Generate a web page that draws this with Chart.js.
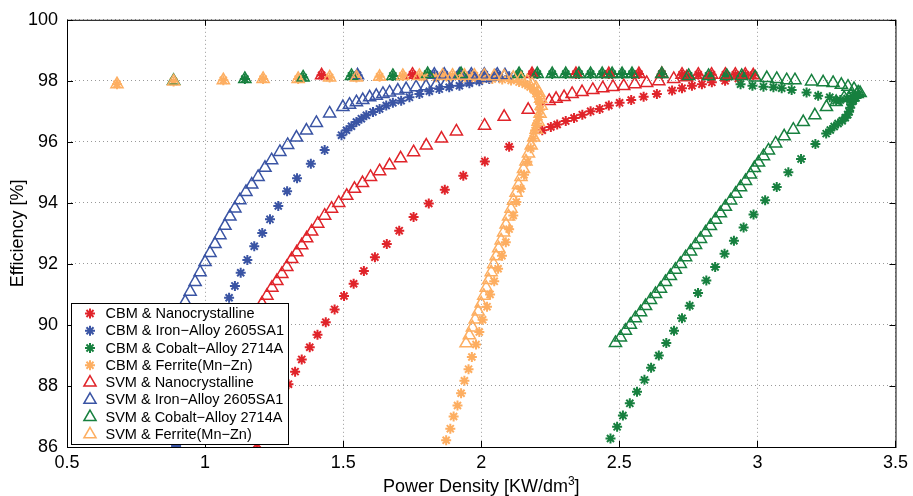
<!DOCTYPE html>
<html>
<head>
<meta charset="utf-8">
<script src="https://cdn.jsdelivr.net/npm/chart.js@4.4.1/dist/chart.umd.min.js"></script>
<style>
  html, body { margin: 0; padding: 0; background: #fff; }
  #wrap { width: 913px; height: 496px; }
</style>
</head>
<body>
<div id="wrap"><canvas id="chart" width="913" height="496"></canvas></div>
<script>
// puntos [potencia, eficiencia]
const CBM_NANO = [[1.188,86.1],[1.209,86.45],[1.231,86.84],[1.254,87.24],[1.278,87.65],[1.302,88.06],[1.326,88.47],[1.350,88.87],[1.379,89.27],[1.407,89.68],[1.437,90.09],[1.469,90.51],[1.503,90.95],[1.538,91.35],[1.575,91.77],[1.615,92.22],[1.658,92.65],[1.703,93.09],[1.755,93.54],[1.810,93.98],[1.868,94.43],[1.935,94.89],[2.013,95.36],[2.101,95.84],[2.221,96.38],[2.252,96.49],[2.275,96.57],[2.306,96.68],[2.336,96.78],[2.366,96.89],[2.396,97.00],[2.429,97.08],[2.462,97.19],[2.501,97.28],[2.543,97.37],[2.588,97.48],[2.636,97.57],[2.691,97.68],[2.727,97.76],[2.763,97.84],[2.799,97.89],[2.835,97.95],[2.883,98.00],[2.931,98.08]];
const SVM_NANO = [[1.170,90.18],[1.188,90.44],[1.206,90.70],[1.224,90.96],[1.242,91.22],[1.260,91.44],[1.278,91.67],[1.296,91.90],[1.314,92.16],[1.332,92.38],[1.350,92.61],[1.368,92.84],[1.386,93.06],[1.408,93.32],[1.433,93.58],[1.458,93.81],[1.484,94.00],[1.513,94.23],[1.541,94.46],[1.570,94.65],[1.599,94.85],[1.632,95.04],[1.668,95.23],[1.708,95.46],[1.755,95.66],[1.801,95.88],[1.856,96.11],[1.910,96.34],[2.012,96.53],[2.083,96.82],[2.170,97.05],[2.246,97.34],[2.271,97.41],[2.300,97.47],[2.329,97.57],[2.365,97.63],[2.404,97.70],[2.440,97.76],[2.477,97.80],[2.516,97.83],[2.556,97.89],[2.599,97.93],[2.643,97.99],[2.697,98.06],[2.744,98.12]];
const NANO_TOP = [[1.422,98.18],[1.751,98.2],[2.184,98.22],[2.343,98.22],[2.462,98.22],[2.571,98.22],[2.654,98.22],[2.727,98.2],[2.786,98.2],[2.834,98.2],[2.884,98.2],[2.920,98.2],[2.956,98.2],[2.985,98.18]];

const CBM_IRON = [[0.895,86.03],[0.912,86.43],[0.928,86.84],[0.944,87.24],[0.960,87.65],[0.975,88.05],[0.991,88.46],[1.007,88.87],[1.023,89.27],[1.039,89.68],[1.055,90.08],[1.071,90.49],[1.087,90.89],[1.108,91.28],[1.129,91.71],[1.153,92.13],[1.178,92.58],[1.207,93.01],[1.235,93.46],[1.265,93.90],[1.297,94.38],[1.333,94.81],[1.383,95.28],[1.433,95.73],[1.494,96.22],[1.512,96.38],[1.530,96.51],[1.548,96.65],[1.566,96.76],[1.584,96.87],[1.608,96.98],[1.632,97.08],[1.656,97.19],[1.680,97.28],[1.710,97.35],[1.740,97.46],[1.776,97.57],[1.812,97.66],[1.848,97.73],[1.884,97.79],[1.921,97.84],[1.957,97.92],[1.993,97.99],[2.029,98.06],[2.065,98.12],[2.101,98.15]];
const SVM_IRON = [[0.874,89.47],[0.892,89.95],[0.910,90.37],[0.928,90.76],[0.946,91.09],[0.964,91.41],[0.982,91.73],[1.000,92.06],[1.018,92.36],[1.036,92.65],[1.054,92.94],[1.072,93.25],[1.090,93.55],[1.108,93.82],[1.126,94.09],[1.148,94.36],[1.169,94.60],[1.192,94.85],[1.217,95.15],[1.241,95.40],[1.271,95.67],[1.299,95.90],[1.331,96.14],[1.367,96.37],[1.403,96.62],[1.451,96.93],[1.499,97.14],[1.523,97.22],[1.548,97.30],[1.571,97.37],[1.596,97.46],[1.620,97.51],[1.644,97.57],[1.668,97.62],[1.698,97.68],[1.728,97.73],[1.764,97.79],[1.800,97.82],[1.837,97.87],[1.873,97.92],[1.909,97.95],[1.945,97.98],[1.978,98.04],[2.014,98.09],[2.050,98.14],[2.086,98.18]];
const IRON_TOP = [[1.552,98.18],[1.830,98.2],[1.866,98.2],[1.921,98.2],[1.964,98.2],[2.011,98.2],[2.058,98.2]];

const CBM_COBALT = [[2.468,86.28],[2.492,86.66],[2.513,87.03],[2.538,87.43],[2.564,87.81],[2.591,88.20],[2.615,88.60],[2.643,89.00],[2.670,89.41],[2.698,89.81],[2.727,90.22],[2.755,90.63],[2.785,91.05],[2.815,91.46],[2.847,91.90],[2.881,92.33],[2.915,92.76],[2.950,93.19],[2.986,93.62],[3.028,94.09],[3.070,94.52],[3.112,95.00],[3.158,95.44],[3.210,95.93],[3.249,96.27],[3.264,96.39],[3.278,96.50],[3.292,96.60],[3.307,96.69],[3.318,96.79],[3.327,96.89],[3.332,96.99],[3.336,97.12],[3.339,97.23],[3.347,97.34],[3.357,97.44],[3.365,97.54],[3.345,97.50],[3.325,97.42],[3.300,97.37],[3.285,97.35],[3.262,97.46],[3.220,97.51],[3.178,97.62],[3.124,97.70],[3.088,97.76],[3.058,97.79],[3.022,97.81],[2.982,97.84],[2.939,97.89]];
const SVM_COBALT = [[2.486,89.41],[2.504,89.59],[2.522,89.81],[2.540,90.01],[2.558,90.22],[2.577,90.42],[2.595,90.62],[2.613,90.82],[2.631,91.01],[2.649,91.19],[2.667,91.41],[2.685,91.60],[2.703,91.81],[2.721,92.00],[2.740,92.22],[2.758,92.41],[2.776,92.62],[2.794,92.82],[2.812,93.03],[2.830,93.24],[2.848,93.45],[2.866,93.66],[2.884,93.87],[2.903,94.08],[2.921,94.30],[2.939,94.51],[2.957,94.72],[2.975,94.93],[2.989,95.14],[3.004,95.32],[3.022,95.53],[3.040,95.72],[3.066,95.95],[3.097,96.18],[3.130,96.40],[3.166,96.65],[3.208,96.87],[3.250,97.14],[3.285,97.31],[3.314,97.44],[3.339,97.52],[3.361,97.57],[3.372,97.60],[3.365,97.62],[3.350,97.73],[3.328,97.81],[3.304,97.87],[3.274,97.93],[3.238,97.95],[3.196,97.98],[3.136,98.02],[3.106,98.02],[3.070,98.06],[3.034,98.09],[2.992,98.11],[0.886,98.00]];
const COBALT_TOP = [[1.144,98.06],[1.355,98.11],[1.530,98.16],[1.680,98.16],[1.806,98.22],[1.927,98.22],[2.137,98.22],[2.203,98.22],[2.257,98.22],[2.306,98.22],[2.354,98.22],[2.396,98.22],[2.438,98.22],[2.474,98.22],[2.510,98.22],[2.546,98.22],[2.654,98.22],[2.751,98.16],[2.823,98.16],[2.889,98.16],[2.943,98.16]];

const CBM_FERRITE = [[1.873,86.22],[1.888,86.60],[1.900,87.00],[1.914,87.36],[1.927,87.76],[1.939,88.17],[1.954,88.55],[1.966,88.95],[1.981,89.36],[1.993,89.77],[2.005,90.17],[2.021,90.60],[2.032,91.00],[2.047,91.43],[2.061,91.84],[2.075,92.27],[2.089,92.71],[2.101,93.14],[2.116,93.59],[2.127,94.03],[2.143,94.46],[2.155,94.92],[2.167,95.35],[2.179,95.79],[2.188,96.11],[2.195,96.37],[2.202,96.60],[2.209,96.82],[2.213,97.05],[2.213,97.24],[2.209,97.41],[2.202,97.57],[2.191,97.70],[2.177,97.80],[2.159,97.89],[2.137,97.96],[2.108,98.01],[2.076,98.04],[2.040,98.06],[2.004,98.07],[1.967,98.09],[1.931,98.09],[1.884,98.10],[1.837,98.12],[1.794,98.12]];
const SVM_FERRITE = [[1.945,89.40],[1.957,89.66],[1.968,89.92],[1.978,90.18],[1.989,90.44],[2.000,90.70],[2.009,90.96],[2.018,91.22],[2.027,91.47],[2.036,91.73],[2.045,91.99],[2.054,92.25],[2.063,92.51],[2.072,92.77],[2.081,93.03],[2.090,93.29],[2.099,93.55],[2.108,93.81],[2.117,94.07],[2.126,94.33],[2.135,94.59],[2.144,94.85],[2.153,95.11],[2.162,95.36],[2.171,95.62],[2.181,95.88],[2.190,96.14],[2.199,96.40],[2.206,96.66],[2.213,96.92],[2.217,97.18],[2.215,97.41],[2.209,97.60],[2.199,97.76],[2.184,97.89],[2.166,97.99],[2.144,98.06],[2.116,98.10],[2.083,98.14],[2.047,98.15],[2.011,98.17]];
const FERRITE_TOP = [[0.681,97.89],[0.886,97.98],[1.066,98.02],[1.210,98.06],[1.337,98.06],[1.451,98.11],[1.548,98.11],[1.632,98.13],[1.716,98.16],[1.776,98.16],[1.860,98.17],[1.896,98.17],[1.939,98.17],[1.975,98.17]];

const X_TICKS = [0.5, 1, 1.5, 2, 2.5, 3, 3.5];
const Y_TICKS = [86, 88, 90, 92, 94, 96, 98, 100];
const NOMBRES = [
  'CBM & Nanocrystalline', 'CBM & Iron\u2212Alloy 2605SA1', 'CBM & Cobalt\u2212Alloy 2714A', 'CBM & Ferrite(Mn\u2212Zn)',
  'SVM & Nanocrystalline', 'SVM & Iron\u2212Alloy 2605SA1', 'SVM & Cobalt\u2212Alloy 2714A', 'SVM & Ferrite(Mn\u2212Zn)'
];

const ROJO = '#e0242a', AZUL = '#3a54a4', VERDE = '#17803f', NARANJA = '#fdae61';
const FUENTE = '"Liberation Sans", Arial, sans-serif';
const R_ESTRELLA = 5, R_TRIANGULO = 7;

const series = [
  { datos: CBM_NANO.concat(NANO_TOP), color: ROJO, estilo: 'star' },
  { datos: CBM_IRON.concat(IRON_TOP), color: AZUL, estilo: 'star' },
  { datos: CBM_COBALT.concat(COBALT_TOP), color: VERDE, estilo: 'star' },
  { datos: CBM_FERRITE.concat(FERRITE_TOP), color: NARANJA, estilo: 'star' },
  { datos: SVM_NANO.concat(NANO_TOP), color: ROJO, estilo: 'triangle' },
  { datos: SVM_IRON.concat(IRON_TOP), color: AZUL, estilo: 'triangle' },
  { datos: SVM_COBALT.concat(COBALT_TOP), color: VERDE, estilo: 'triangle' },
  { datos: SVM_FERRITE.concat(FERRITE_TOP), color: NARANJA, estilo: 'triangle' }
];

function dibujarMarca(ctx, estilo, color, x, y) {
  ctx.save();
  ctx.strokeStyle = color;
  ctx.beginPath();
  if (estilo === 'star') {
    ctx.lineWidth = 2;
    for (let k = 0; k < 4; k++) {
      const a = k * Math.PI / 4;
      ctx.moveTo(x - R_ESTRELLA * Math.sin(a), y - R_ESTRELLA * Math.cos(a));
      ctx.lineTo(x + R_ESTRELLA * Math.sin(a), y + R_ESTRELLA * Math.cos(a));
    }
  } else {
    ctx.lineWidth = 1.5;
    for (let k = 0; k < 3; k++) {
      const a = k * 2 * Math.PI / 3;
      const px = x + Math.sin(a) * R_TRIANGULO, py = y - Math.cos(a) * R_TRIANGULO;
      if (k === 0) ctx.moveTo(px, py); else ctx.lineTo(px, py);
    }
    ctx.closePath();
  }
  ctx.stroke();
  ctx.restore();
}

const marcoPlugin = {
  id: 'marco',
  afterDatasetsDraw(chart) {
    const { ctx, chartArea: a, scales } = chart;
    ctx.save();
    ctx.strokeStyle = '#000';
    ctx.lineWidth = 1;
    ctx.strokeRect(a.left + 0.5, a.top + 0.5, a.right - a.left, a.bottom - a.top);

    // marcas hacia adentro, como en matlab
    ctx.beginPath();
    X_TICKS.forEach(v => {
      const px = Math.round(scales.x.getPixelForValue(v)) + 0.5;
      ctx.moveTo(px, a.bottom); ctx.lineTo(px, a.bottom - 6);
      ctx.moveTo(px, a.top); ctx.lineTo(px, a.top + 6);
    });
    Y_TICKS.forEach(v => {
      const py = Math.round(scales.y.getPixelForValue(v)) + 0.5;
      ctx.moveTo(a.left, py); ctx.lineTo(a.left + 6, py);
      ctx.moveTo(a.right, py); ctx.lineTo(a.right - 6, py);
    });
    ctx.stroke();

    // leyenda
    const lx = 71, ly = 303, lw = 217, lh = 141;
    ctx.fillStyle = '#fff';
    ctx.fillRect(lx, ly, lw, lh);
    ctx.strokeStyle = '#000';
    ctx.strokeRect(lx + 0.5, ly + 0.5, lw, lh);
    ctx.font = '14.5px ' + FUENTE;
    ctx.textBaseline = 'middle';
    ctx.textAlign = 'left';
    series.forEach((s, i) => {
      const y = 313.5 + i * 17.25;
      dibujarMarca(ctx, s.estilo, s.color, 90, y);
      ctx.fillStyle = '#000';
      ctx.fillText(NOMBRES[i], 105.5, y + 0.5);
    });

    // titulos de los ejes
    ctx.fillStyle = '#000';
    ctx.font = '18px ' + FUENTE;
    ctx.textBaseline = 'alphabetic';
    const t1 = 'Power Density [KW/dm', t2 = '3', t3 = ']';
    const w1 = ctx.measureText(t1).width, w3 = ctx.measureText(t3).width;
    ctx.font = '12px ' + FUENTE;
    const w2 = ctx.measureText(t2).width;
    const cx = (a.left + a.right) / 2;
    const x0 = cx - (w1 + w2 + w3) / 2;
    ctx.font = '18px ' + FUENTE;
    ctx.fillText(t1, x0, 492);
    ctx.font = '12px ' + FUENTE;
    ctx.fillText(t2, x0 + w1, 485);
    ctx.font = '18px ' + FUENTE;
    ctx.fillText(t3, x0 + w1 + w2, 492);

    ctx.translate(18, (a.top + a.bottom) / 2);
    ctx.rotate(-Math.PI / 2);
    ctx.textAlign = 'center';
    ctx.textBaseline = 'middle';
    ctx.fillText('Efficiency [%]', 0, 0);
    ctx.restore();
  }
};

window.onload = () => {
  const datasets = series.map((s, i) => ({
    label: NOMBRES[i],
    data: s.datos.map(([x, y]) => ({ x, y })),
    pointStyle: s.estilo,
    pointRadius: s.estilo === 'star' ? R_ESTRELLA : R_TRIANGULO,
    pointBorderWidth: s.estilo === 'star' ? 2 : 1.5,
    borderColor: s.color,
    backgroundColor: 'rgba(0,0,0,0)',
    showLine: false,
    order: 7 - i
  }));

  new Chart(document.getElementById('chart'), {
    type: 'scatter',
    data: { datasets },
    options: {
      responsive: false,
      animation: false,
      events: [],
      layout: { padding: { left: 0, right: 16, top: 15, bottom: 0 } },
      plugins: { legend: { display: false }, tooltip: { enabled: false } },
      scales: {
        x: {
          type: 'linear', min: 0.5, max: 3.5,
          afterBuildTicks: s => { s.ticks = X_TICKS.map(v => ({ value: v })); },
          afterFit: s => { s.height = 49; },
          ticks: { color: '#000', font: { family: FUENTE, size: 18 }, padding: 5, maxRotation: 0,
                   callback: v => String(+v.toFixed(1)) },
          grid: { color: 'rgba(0,0,0,0.4)', lineWidth: 1, drawTicks: false },
          border: { display: false, dash: [1, 3] }
        },
        y: {
          type: 'linear', min: 86, max: 100,
          afterBuildTicks: s => { s.ticks = Y_TICKS.map(v => ({ value: v })); },
          afterFit: s => { s.width = 67; },
          ticks: { color: '#000', font: { family: FUENTE, size: 18 }, padding: 9 },
          grid: { color: 'rgba(0,0,0,0.4)', lineWidth: 1, drawTicks: false },
          border: { display: false, dash: [1, 3] }
        }
      }
    },
    plugins: [marcoPlugin]
  });
};
</script>
</body>
</html>
